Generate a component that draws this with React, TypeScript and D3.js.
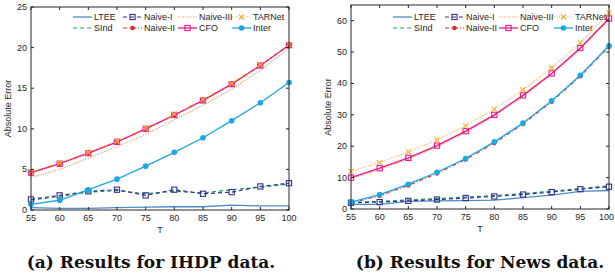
import React from "react";
import * as d3 from "d3";

// x values (T)
const T = [55, 60, 65, 70, 75, 80, 85, 90, 95, 100];
const xTicks = [55, 60, 65, 70, 75, 80, 85, 90, 95, 100];

// IHDP results
const ihdpLTEE = [0.3, 0.2, 0.2, 0.3, 0.35, 0.4, 0.4, 0.6, 0.5, 0.5];
const ihdpSInd = [1.2, 1.7, 2.2, 2.4, 2.0, 2.3, 2.1, 2.5, 2.8, 3.2];
const ihdpNaive1 = [1.3, 1.8, 2.3, 2.5, 1.8, 2.5, 2.0, 2.2, 2.9, 3.3];
const ihdpNaive2 = [4.6, 5.7, 7.0, 8.4, 10.0, 11.7, 13.5, 15.5, 17.8, 20.3];
const ihdpNaive3 = [4.0, 5.0, 6.4, 7.8, 9.3, 11.1, 12.9, 14.9, 17.2, 19.9];
const ihdpCFO = [4.6, 5.7, 7.0, 8.4, 10.0, 11.7, 13.5, 15.5, 17.8, 20.3];
const ihdpTARNet = [4.7, 5.8, 7.1, 8.5, 10.1, 11.8, 13.6, 15.6, 17.9, 20.4];
const ihdpInter = [0.7, 1.2, 2.5, 3.8, 5.4, 7.1, 8.9, 11.0, 13.2, 15.7];
const ihdpYTicks = [0, 5, 10, 15, 20, 25];

// News results
const newsLTEE = [1.5, 1.5, 2.4, 2.6, 2.7, 2.8, 3.6, 4.4, 5.6, 5.9];
const newsSInd = [2.1, 2.4, 2.9, 3.3, 3.8, 4.3, 4.9, 5.7, 6.5, 7.4];
const newsNaive1 = [2.0, 2.2, 2.6, 3.0, 3.5, 4.0, 4.6, 5.4, 6.3, 7.1];
const newsNaive2 = [2.0, 4.2, 7.5, 11.3, 15.8, 21.0, 27.1, 34.2, 42.3, 51.7];
const newsNaive3 = [9.6, 12.6, 15.9, 19.8, 24.4, 29.6, 35.8, 42.8, 50.9, 60.2];
const newsCFO = [10.0, 13.0, 16.3, 20.2, 24.8, 30.0, 36.2, 43.2, 51.3, 60.7];
const newsTARNet = [12.0, 14.8, 18.2, 22.0, 26.5, 31.8, 38.0, 45.0, 53.0, 62.5];
const newsInter = [2.2, 4.6, 7.9, 11.7, 16.1, 21.4, 27.4, 34.5, 42.6, 52.0];
const newsYTicks = [0, 10, 20, 30, 40, 50, 60];

type Style = {
  name: string;
  color: string;
  dash: string;
  marker: "none" | "square" | "dot" | "x" | "circle";
  width: number;
};

const styles: Record<string, Style> = {
  LTEE: { name: "LTEE", color: "#4b8cc6", dash: "", marker: "none", width: 1.3 },
  SInd: { name: "SInd", color: "#1e9e55", dash: "4,3", marker: "none", width: 1.2 },
  Naive1: { name: "Naive-I", color: "#2e3192", dash: "4,3", marker: "square", width: 1.2 },
  Naive2: { name: "Naive-II", color: "#e8232a", dash: "4,2,1,2", marker: "dot", width: 1.1 },
  Naive3: { name: "Naive-III", color: "#ec8f55", dash: "1,1.5", marker: "none", width: 1.2 },
  CFO: { name: "CFO", color: "#e9168c", dash: "", marker: "square", width: 1.3 },
  TARNet: { name: "TARNet", color: "#f4b13f", dash: "1,1.5", marker: "x", width: 1.2 },
  Inter: { name: "Inter", color: "#1ba7e1", dash: "", marker: "circle", width: 1.3 },
};

const legendRows = [
  ["LTEE", "Naive1", "Naive3", "TARNet"],
  ["SInd", "Naive2", "CFO", "Inter"],
];

const drawOrder = ["LTEE", "SInd", "Naive1", "Naive3", "Naive2", "CFO", "TARNet", "Inter"];

const Marker = ({ s, x, y }: { s: Style; x: number; y: number }) => {
  if (s.marker === "square")
    return <rect x={x - 2.6} y={y - 2.6} width={5.2} height={5.2} fill="none" stroke={s.color} strokeWidth={1.1} />;
  if (s.marker === "dot") return <circle cx={x} cy={y} r={2.3} fill={s.color} />;
  if (s.marker === "circle") return <circle cx={x} cy={y} r={2.8} fill={s.color} />;
  if (s.marker === "x")
    return (
      <path
        d={`M${x - 2.5},${y - 2.5}L${x + 2.5},${y + 2.5}M${x - 2.5},${y + 2.5}L${x + 2.5},${y - 2.5}`}
        stroke={s.color}
        strokeWidth={1.2}
      />
    );
  return null;
};

type PanelProps = {
  left: number;
  right: number;
  top: number;
  bottom: number;
  yMax: number;
  yTicks: number[];
  data: Record<string, number[]>;
  legendX: number[];
  caption: string;
  captionX: number;
};

const Panel = ({ left, right, top, bottom, yMax, yTicks, data, legendX, caption, captionX }: PanelProps) => {
  const x = d3.scaleLinear().domain([55, 100]).range([left, right]);
  const y = d3.scaleLinear().domain([0, yMax]).range([bottom, top]);
  const line = d3
    .line<number>()
    .x((_, i) => x(T[i]))
    .y((d) => y(d));
  const axisColor = "#262626";
  const font = "'Liberation Sans', Arial, sans-serif";
  return (
    <g>
      {/* series */}
      {drawOrder.map((k) => {
        const s = styles[k];
        const vals = data[k];
        return (
          <g key={k}>
            <path d={line(vals) || ""} fill="none" stroke={s.color} strokeWidth={s.width} strokeDasharray={s.dash} />
            {vals.map((v, i) => (
              <Marker key={i} s={s} x={x(T[i])} y={y(v)} />
            ))}
          </g>
        );
      })}
      {/* box */}
      <rect x={left} y={top} width={right - left} height={bottom - top} fill="none" stroke={axisColor} strokeWidth={1} />
      {xTicks.map((t) => (
        <g key={t}>
          <line x1={x(t)} x2={x(t)} y1={bottom} y2={bottom - 3} stroke={axisColor} />
          <line x1={x(t)} x2={x(t)} y1={top} y2={top + 3} stroke={axisColor} />
          <text
            x={Math.min(x(t), 606.5)}
            y={bottom + 11}
            textAnchor="middle"
            fontSize={9}
            fontFamily={font}
            fill={axisColor}
          >
            {t}
          </text>
        </g>
      ))}
      {yTicks.map((t) => (
        <g key={t}>
          <line x1={left} x2={left + 3} y1={y(t)} y2={y(t)} stroke={axisColor} />
          <line x1={right} x2={right - 3} y1={y(t)} y2={y(t)} stroke={axisColor} />
          <text x={left - 4} y={y(t) + 3} textAnchor="end" fontSize={9} fontFamily={font} fill={axisColor}>
            {t}
          </text>
        </g>
      ))}
      <text x={(left + right) / 2} y={bottom + 23} textAnchor="middle" fontSize={9} fontFamily={font} fill={axisColor}>
        T
      </text>
      <text
        transform={`translate(${left - 20},${(top + bottom) / 2}) rotate(-90)`}
        textAnchor="middle"
        fontSize={9}
        fontFamily={font}
        fill={axisColor}
      >
        Absolute Error
      </text>
      {/* legend */}
      {legendRows.map((row, r) =>
        row.map((k, c) => {
          const s = styles[k];
          const lx = legendX[c];
          const ly = 17 + r * 11;
          return (
            <g key={k}>
              <line x1={lx} x2={lx + 19} y1={ly} y2={ly} stroke={s.color} strokeWidth={s.width} strokeDasharray={s.dash} />
              <Marker s={s} x={lx + 9.5} y={ly} />
              <text x={lx + 21} y={ly + 3.2} fontSize={9} fontFamily={font} fill={axisColor}>
                {s.name}
              </text>
            </g>
          );
        })
      )}
      <text
        x={captionX}
        y={268}
        textAnchor="middle"
        fontSize={17}
        fontWeight="bold"
        fontFamily="'DejaVu Serif', serif"
        fill="#111"
      >
        {caption}
      </text>
    </g>
  );
};

const App = () => {
  const ihdp = {
    LTEE: ihdpLTEE,
    SInd: ihdpSInd,
    Naive1: ihdpNaive1,
    Naive2: ihdpNaive2,
    Naive3: ihdpNaive3,
    CFO: ihdpCFO,
    TARNet: ihdpTARNet,
    Inter: ihdpInter,
  };
  const news = {
    LTEE: newsLTEE,
    SInd: newsSInd,
    Naive1: newsNaive1,
    Naive2: newsNaive2,
    Naive3: newsNaive3,
    CFO: newsCFO,
    TARNet: newsTARNet,
    Inter: newsInter,
  };
  return (
    <svg
      width={615}
      height={279}
      style={{ position: "absolute", left: 0, top: 0, background: "#fff" }}
    >
      <Panel
        left={31}
        right={289}
        top={7}
        bottom={210}
        yMax={25}
        yTicks={ihdpYTicks}
        data={ihdp}
        legendX={[73, 123, 178, 232]}
        caption="(a) Results for IHDP data."
        captionX={151}
      />
      <Panel
        left={351}
        right={609}
        top={5}
        bottom={209}
        yMax={65}
        yTicks={newsYTicks}
        data={news}
        legendX={[393, 445, 499, 554]}
        caption="(b) Results for News data."
        captionX={480}
      />
    </svg>
  );
};

export default App;
